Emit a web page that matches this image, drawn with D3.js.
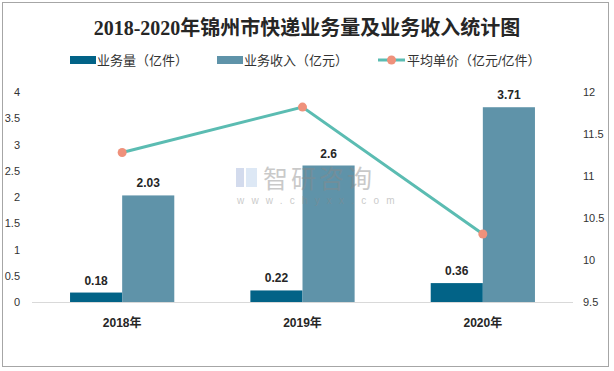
<!DOCTYPE html>
<html><head><meta charset="utf-8">
<script src="https://cdn.jsdelivr.net/npm/d3@7/dist/d3.min.js"></script>
<style>body{margin:0;background:#fff}svg{display:block}</style>
</head><body>
<svg id="c" width="614" height="371"></svg>
<script>
const categories = ["2018年", "2019年", "2020年"];
const volume = [0.18, 0.22, 0.36];          // 业务量（亿件）
const revenue = [2.03, 2.6, 3.71];          // 业务收入（亿元）
const unitPrice = [11.28, 11.82, 10.31];    // 平均单价（亿元/亿件）
const leftTicks = [0, 0.5, 1, 1.5, 2, 2.5, 3, 3.5, 4];
const rightTicks = [9.5, 10, 10.5, 11, 11.5, 12];
const seriesNames = ["业务量（亿件）", "业务收入（亿元）", "平均单价（亿元/亿件）"];
const title = "2018-2020年锦州市快递业务量及业务收入统计图";

const C_DARK = "#026387", C_LIGHT = "#5f93a9", C_LINE = "#5bbcb2", C_DOT = "#ef917b";
const FONT = "'Liberation Sans','Noto Sans CJK SC',sans-serif";

const svg = d3.select("#c");
svg.append("rect").attr("x", 2.5).attr("y", 2.5).attr("width", 606).attr("height", 364)
  .attr("fill", "#fff").attr("stroke", "#a6a6a6");

// Title
svg.append("text").attr("x", 307).attr("y", 35).attr("text-anchor", "middle")
  .attr("font-family", "'Liberation Serif','Noto Sans CJK SC',serif").attr("font-weight", 700)
  .attr("font-size", 20).attr("fill", "#262626").text(title);

const x0 = d3.scaleBand().domain(categories).range([32, 573]);
const x1 = d3.scaleBand().domain([0, 1]).range([0, x0.bandwidth()]).paddingInner(0).paddingOuter(0.73);
const yL = d3.scaleLinear().domain([0, 4]).range([302, 92]);
const yR = d3.scaleLinear().domain([9.5, 12]).range([302, 92]);

// Baseline
svg.append("line").attr("x1", 32).attr("x2", 573).attr("y1", 302.5).attr("y2", 302.5)
  .attr("stroke", "#d9d9d9").attr("stroke-width", 1);

// Bars
const g = svg.append("g");
categories.forEach((c, i) => {
  [[volume[i], C_DARK], [revenue[i], C_LIGHT]].forEach(([v, col], k) => {
    const bx = x0(c) + x1(k);
    g.append("rect").attr("x", bx).attr("y", yL(v)).attr("width", x1.bandwidth())
      .attr("height", yL(0) - yL(v)).attr("fill", col);
    g.append("text").attr("x", bx + x1.bandwidth() / 2).attr("y", yL(v) - 8)
      .attr("text-anchor", "middle").attr("font-family", FONT).attr("font-weight", 700)
      .attr("font-size", 12).attr("fill", "#262626").text(v);
  });
});

// Watermark (on top, semi-transparent)
const wm = svg.append("g").attr("opacity", 0.45);
wm.append("rect").attr("x", 236).attr("y", 168).attr("width", 8).attr("height", 19).attr("fill", "#9fb0d8");
wm.append("rect").attr("x", 246).attr("y", 168).attr("width", 11).attr("height", 19).attr("fill", "#b5cdea");
wm.append("text").attr("x", 263).attr("y", 188).attr("font-family", FONT).attr("font-size", 25)
  .attr("fill", "#8a8a8a").attr("letter-spacing", 3).text("智研咨询");
wm.append("text").attr("x", 237).attr("y", 204).attr("font-family", FONT).attr("font-size", 10)
  .attr("fill", "#8a8a8a").attr("letter-spacing", 7.2).text("www.chyxx.com");

// Line
const cx = c => x0(c) + x0.bandwidth() / 2;
svg.append("path").datum(unitPrice)
  .attr("d", d3.line().x((d, i) => cx(categories[i])).y(d => yR(d)))
  .attr("fill", "none").attr("stroke", C_LINE).attr("stroke-width", 3);
svg.selectAll("circle.pt").data(unitPrice).join("circle").attr("class", "pt")
  .attr("cx", (d, i) => cx(categories[i])).attr("cy", d => yR(d)).attr("r", 4.5).attr("fill", C_DOT);

// Axes
const axL = svg.append("g").attr("transform", "translate(20,0)")
  .call(d3.axisLeft(yL).tickValues(leftTicks).tickSize(0).tickPadding(0).tickFormat(d3.format("")));
const axR = svg.append("g").attr("transform", "translate(583,0)")
  .call(d3.axisRight(yR).tickValues(rightTicks).tickSize(0).tickPadding(0).tickFormat(d3.format("")));
const axB = svg.append("g").attr("transform", "translate(0,302)")
  .call(d3.axisBottom(x0).tickSize(0).tickPadding(16));
[axL, axR, axB].forEach(a => {
  a.select(".domain").remove();
  a.selectAll("text").attr("font-family", FONT).attr("font-size", 11).attr("fill", "#333");
});
axB.selectAll("text").attr("font-weight", 700).attr("font-size", 12).attr("fill", "#262626");

// Legend
const lg = svg.append("g").attr("font-family", FONT).attr("font-size", 13).attr("fill", "#333");
lg.append("rect").attr("x", 70).attr("y", 56).attr("width", 26).attr("height", 8).attr("fill", C_DARK);
lg.append("text").attr("x", 97).attr("y", 65).text(seriesNames[0]);
lg.append("rect").attr("x", 217).attr("y", 56).attr("width", 26).attr("height", 8).attr("fill", C_LIGHT);
lg.append("text").attr("x", 244).attr("y", 65).text(seriesNames[1]);
lg.append("line").attr("x1", 378).attr("x2", 405).attr("y1", 60).attr("y2", 60).attr("stroke", C_LINE).attr("stroke-width", 3);
lg.append("circle").attr("cx", 391.5).attr("cy", 60).attr("r", 4.5).attr("fill", C_DOT);
lg.append("text").attr("x", 407).attr("y", 65).text(seriesNames[2]);
</script>
</body></html>
